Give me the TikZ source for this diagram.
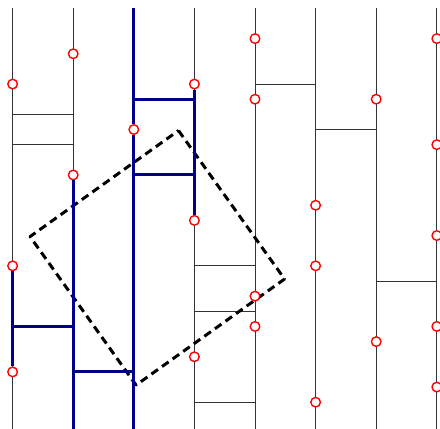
\documentclass[tikz,border=0pt]{standalone}
\usepackage{tikz}
\begin{document}
\begin{tikzpicture}[x=15.15bp, y=-15.15bp, line join=round]

\definecolor{WL1}{HTML}{00008B}
\definecolor{WL2}{HTML}{FF0000}

\tikzset{
  thinline/.style={line width=0.9bp, black!80},
  worldline/.style={line width=3bp, WL1},
  vertex/.style={circle, draw=WL2, fill=white, line width=1.4bp, inner sep=0pt, minimum size=9.6bp},
  plaquette/.style={line width=3bp, dash pattern=on 8bp off 5bp}
}

\useasboundingbox (-0.832,-0.548) rectangle (28.211,27.769);

% sites
\draw[thinline] (0,0)--(0,27.8);
\draw[thinline] (4,0)--(4,27.8);
\draw[thinline] (8,0)--(8,27.8);
\draw[thinline] (12,0)--(12,27.8);
\draw[thinline] (16,0)--(16,27.8);
\draw[thinline] (20,0)--(20,27.8);
\draw[thinline] (24,0)--(24,27.8);
\draw[thinline] (28,0)--(28,27.8);

% bonds
\draw[thinline] (0,7)--(4,7);
\draw[thinline] (0,9)--(4,9);
\draw[thinline] (16,5)--(20,5);
\draw[thinline] (20,8)--(24,8);
\draw[thinline] (12,17)--(16,17);
\draw[thinline] (12,20)--(16,20);
\draw[thinline] (12,26)--(16,26);
\draw[thinline] (24,18)--(28,18);

\draw[plaquette] (10.95,8.07)--(17.95,17.87)--(8.15,24.87)--(1.15,15.07)--cycle;

% vertices
\node[vertex] (v0a) at (0,5) {};
\node[vertex] (v0b) at (0,17) {};
\node[vertex] (v0c) at (0,24) {};
\node[vertex] (v1a) at (4,3) {};
\node[vertex] (v1b) at (4,11) {};
\node[vertex] (v2a) at (8,8) {};
\node[vertex] (v3a) at (12,5) {};
\node[vertex] (v3b) at (12,14) {};
\node[vertex] (v3c) at (12,23) {};
\node[vertex] (v4a) at (16,2) {};
\node[vertex] (v4b) at (16,6) {};
\node[vertex] (v4c) at (16,19) {};
\node[vertex] (v4d) at (16,21) {};
\node[vertex] (v5a) at (20,13) {};
\node[vertex] (v5b) at (20,17) {};
\node[vertex] (v5c) at (20,26) {};
\node[vertex] (v6a) at (24,6) {};
\node[vertex] (v6b) at (24,22) {};
\node[vertex] (v7a) at (28,2) {};
\node[vertex] (v7b) at (28,9) {};
\node[vertex] (v7c) at (28,15) {};
\node[vertex] (v7d) at (28,21) {};
\node[vertex] (v7e) at (28,25) {};

\coordinate (top2) at (8,0);
\coordinate (bot2) at (8,27.8);
\coordinate (bot1) at (4,27.8);

% world lines
\draw[worldline] (top2)--(v2a);
\draw[worldline] (v2a)--(bot2);
\draw[worldline] (v3a)--(v3b);
\draw[worldline] (v1b)--(bot1);
\draw[worldline] (v0b)--(v0c);
\draw[worldline] (8,6)--(12,6);
\draw[worldline] (8,11)--(12,11);
\draw[worldline] (0,21)--(4,21);
\draw[worldline] (4,24)--(8,24);

\end{tikzpicture}
\end{document}
